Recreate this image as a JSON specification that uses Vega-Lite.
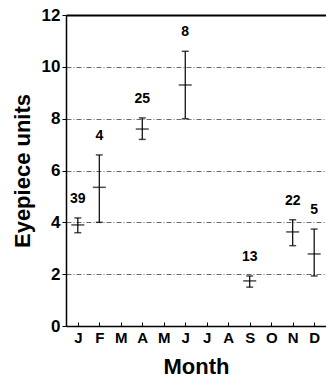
{
  "$schema": "https://vega.github.io/schema/vega-lite/v6.json",
  "autosize": "none",
  "width": 260,
  "height": 311,
  "padding": {"left": 66, "top": 15, "right": 0, "bottom": 62},
  "background": "white",
  "config": {
    "view": {"stroke": null},
    "font": "Liberation Sans"
  },
  "data": {
    "values": [
      {"m": 1, "low": 3.6, "mean": 3.9, "high": 4.17, "n": "39"},
      {"m": 2, "low": 4.0, "mean": 5.35, "high": 6.6, "n": "4"},
      {"m": 4, "low": 7.2, "mean": 7.6, "high": 8.03, "n": "25"},
      {"m": 6, "low": 8.0, "mean": 9.3, "high": 10.6, "n": "8"},
      {"m": 9, "low": 1.5, "mean": 1.74, "high": 1.93, "n": "13"},
      {"m": 11, "low": 3.1, "mean": 3.63, "high": 4.1, "n": "22"},
      {"m": 12, "low": 1.93, "mean": 2.78, "high": 3.74, "n": "5"}
    ]
  },
  "encoding": {
    "x": {
      "field": "m",
      "type": "ordinal",
      "scale": {"type": "point", "domain": [1,2,3,4,5,6,7,8,9,10,11,12], "padding": 0.55},
      "axis": {
        "title": "Month",
        "titleFontSize": 22,
        "titleFontWeight": "bold",
        "titleColor": "black",
        "titlePadding": 11,
        "labelExpr": "['J','F','M','A','M','J','J','A','S','O','N','D'][datum.value-1]",
        "labelFontSize": 15,
        "labelFontWeight": "bold",
        "labelColor": "black",
        "labelAngle": 0,
        "labelPadding": 8,
        "tickSize": -4,
        "tickColor": "black",
        "tickWidth": 1,
        "domainColor": "black",
        "domainWidth": 1.5,
        "grid": false
      }
    }
  },
  "layer": [
    {
      "mark": {"type": "rule", "color": "black", "strokeWidth": 1.2},
      "encoding": {
        "y": {
          "field": "low",
          "type": "quantitative",
          "scale": {"domain": [0, 12], "nice": false},
          "axis": {
            "title": "Eyepiece units",
            "titleFontSize": 22,
            "titleFontWeight": "bold",
            "titleColor": "black",
            "titlePadding": 7,
            "values": [0, 2, 4, 6, 8, 10, 12],
            "labelFontSize": 17,
            "labelFontWeight": "bold",
            "labelColor": "black",
            "labelPadding": 2,
            "tickSize": 4,
            "tickColor": "black",
            "domainColor": "black",
            "domainWidth": 1.5,
            "grid": true,
            "gridColor": {"condition": {"test": "datum.value == 12", "value": "black"}, "value": "#444444"},
            "gridWidth": {"condition": {"test": "datum.value == 12", "value": 2}, "value": 0.8},
            "gridDash": {"condition": {"test": "datum.value == 12", "value": []}, "value": [5, 2, 1, 2]},
            "gridOpacity": 1
          }
        },
        "y2": {"field": "high"}
      }
    },
    {
      "mark": {"type": "tick", "color": "black", "size": 7, "thickness": 1.5, "orient": "horizontal"},
      "encoding": {"y": {"field": "low", "type": "quantitative"}}
    },
    {
      "mark": {"type": "tick", "color": "black", "size": 7, "thickness": 1.5, "orient": "horizontal"},
      "encoding": {"y": {"field": "high", "type": "quantitative"}}
    },
    {
      "mark": {"type": "tick", "color": "black", "size": 13, "thickness": 1.5, "orient": "horizontal"},
      "encoding": {"y": {"field": "mean", "type": "quantitative"}}
    },
    {
      "mark": {"type": "text", "fontSize": 14, "fontWeight": "bold", "color": "black", "baseline": "middle", "dy": -19},
      "encoding": {
        "y": {"field": "high", "type": "quantitative"},
        "text": {"field": "n"}
      }
    }
  ]
}
